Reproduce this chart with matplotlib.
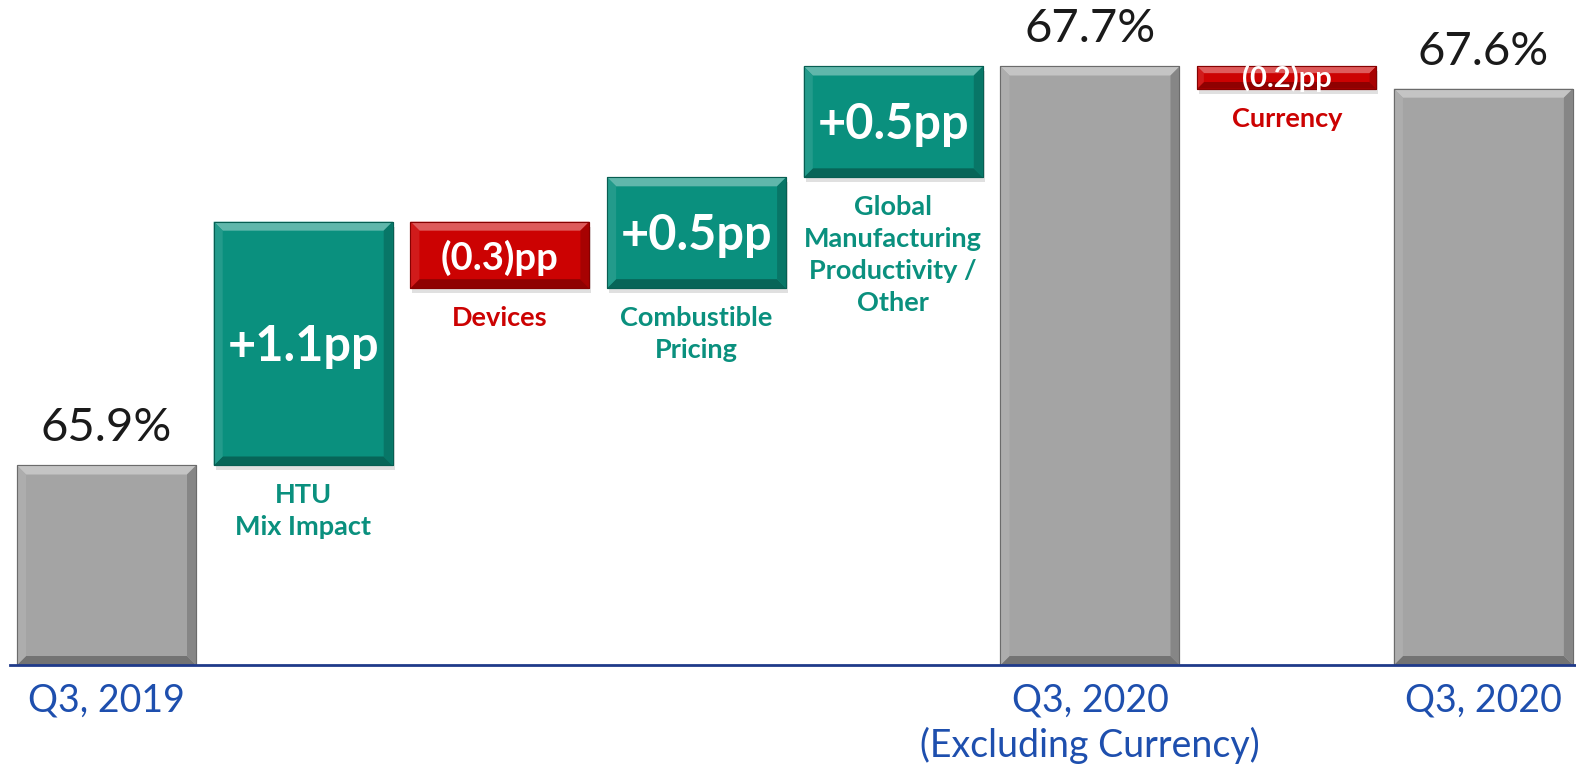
import matplotlib
matplotlib.use("Agg")
import matplotlib.pyplot as plt
from matplotlib.patches import Polygon, Rectangle
import numpy as np

# ---- data ----
start_value = 65.9
start_label = "65.9%"
deltas = [1.1, -0.3, 0.5, 0.5]
delta_labels = ["+1.1pp", "(0.3)pp", "+0.5pp", "+0.5pp"]
delta_names = ["HTU\nMix Impact", "Devices", "Combustible\nPricing",
               "Global\nManufacturing\nProductivity /\nOther"]
subtotal_value = 67.7
subtotal_label = "67.7%"
currency_delta = -0.1
currency_label = "(0.2)pp"
currency_name = "Currency"
final_value = 67.6
final_label = "67.6%"
tick_labels = ["Q3, 2019", "", "", "", "", "Q3, 2020\n(Excluding Currency)", "", "Q3, 2020"]

GRAY = "#A4A4A4"
TEAL = "#0A907E"
RED = "#CC0202"
BLUE = "#1E4FAE"
NAVY = "#1F3A8A"

plt.rcParams['font.family'] = ['Lato', 'DejaVu Sans']

W, H = 1576, 766
fig = plt.figure(figsize=(W / 100, H / 100), dpi=100)
ax_left, ax_right, ax_bottom_px = 10, 1576, 665
ax = fig.add_axes([ax_left / W, 1 - ax_bottom_px / H, (ax_right - ax_left) / W, ax_bottom_px / H])
ymin, ymax = 65.0, 68.0
xmin, xmax = -0.4906, 7.4708
ax.set_xlim(xmin, xmax)
ax.set_ylim(ymin, ymax)
ax.axis("off")

px_x = (xmax - xmin) / (ax_right - ax_left)
px_y = (ymax - ymin) / ax_bottom_px
bw = 0.91


def shade(c, f):
    c = np.array(matplotlib.colors.to_rgb(c))
    if f >= 0:
        return tuple(c + (1 - c) * f)
    return tuple(c * (1 + f))


def bevel_bar(x, y0, y1, color, shadow=False):
    lo, hi = min(y0, y1), max(y0, y1)
    l, r = x - bw / 2, x + bw / 2
    hpx = (hi - lo) / px_y
    b = min(9.0, hpx * 0.3)
    bx, by = b * px_x, b * px_y
    if shadow:
        ax.add_patch(Rectangle((l + 2 * px_x, lo - 5 * px_y), bw, hi - lo,
                               facecolor="#000000", alpha=0.12, lw=0, zorder=1))
    ax.add_patch(Rectangle((l, lo), bw, hi - lo, facecolor=color,
                           edgecolor=shade(color, -0.35), lw=0.8, zorder=2))
    # top
    ax.add_patch(Polygon([(l, hi), (r, hi), (r - bx, hi - by), (l + bx, hi - by)],
                         closed=True, facecolor=shade(color, 0.35), lw=0, zorder=3))
    # bottom
    ax.add_patch(Polygon([(l, lo), (r, lo), (r - bx, lo + by), (l + bx, lo + by)],
                         closed=True, facecolor=shade(color, -0.3), lw=0, zorder=3))
    # left
    ax.add_patch(Polygon([(l, lo), (l, hi), (l + bx, hi - by), (l + bx, lo + by)],
                         closed=True, facecolor=shade(color, 0.1), lw=0, zorder=3))
    # right
    ax.add_patch(Polygon([(r, lo), (r, hi), (r - bx, hi - by), (r - bx, lo + by)],
                         closed=True, facecolor=shade(color, -0.18), lw=0, zorder=3))
    ax.add_patch(Rectangle((l, lo), bw, hi - lo, facecolor="none",
                           edgecolor=shade(color, -0.35), lw=0.8, zorder=4))


def total_bar(x, v, label):
    bevel_bar(x, ymin, v, GRAY)
    ax.text(x, v + 16 * px_y, label, ha="center", va="bottom", fontsize=34,
            color="#1a1a1a", zorder=5)


# start
total_bar(0, start_value, start_label)

# deltas
level = start_value
for i, (d, lab, name) in enumerate(zip(deltas, delta_labels, delta_names)):
    x = i + 1
    col = TEAL if d > 0 else RED
    y0, y1 = level, level + d
    bevel_bar(x, y0, y1, col, shadow=True)
    fs = 35 if abs(d) >= 0.5 else 27.5
    ax.text(x, (y0 + y1) / 2 - 3 * px_y, lab, ha="center", va="center", fontsize=fs,
            fontweight="bold", color="white", zorder=5)
    ax.text(x, min(y0, y1) - 18 * px_y, name, ha="center", va="top", fontsize=19.5,
            fontweight="bold", color=col, linespacing=1.4, zorder=5)
    level = y1

# subtotal
total_bar(5, subtotal_value, subtotal_label)

# currency
y0, y1 = subtotal_value, subtotal_value + currency_delta
bevel_bar(6, y0, y1, RED, shadow=True)
ax.text(6, (y0 + y1) / 2 - 1 * px_y, currency_label, ha="center", va="center", fontsize=21,
        fontweight="bold", color="white", zorder=5)
ax.text(6, min(y0, y1) - 18 * px_y, currency_name, ha="center", va="top", fontsize=19.5,
        fontweight="bold", color=RED, zorder=5)

# final
total_bar(7, final_value, final_label)

# baseline
ax.plot([0, 1], [0, 0], transform=ax.transAxes, color=NAVY, lw=2, clip_on=False, zorder=6)

# tick labels
for i, t in enumerate(tick_labels):
    if t:
        ax.text(i, ymin - 18 * px_y, t, ha="center", va="top", fontsize=27,
                color=BLUE, linespacing=1.25, clip_on=False)

fig.savefig("out.png", dpi=100)
